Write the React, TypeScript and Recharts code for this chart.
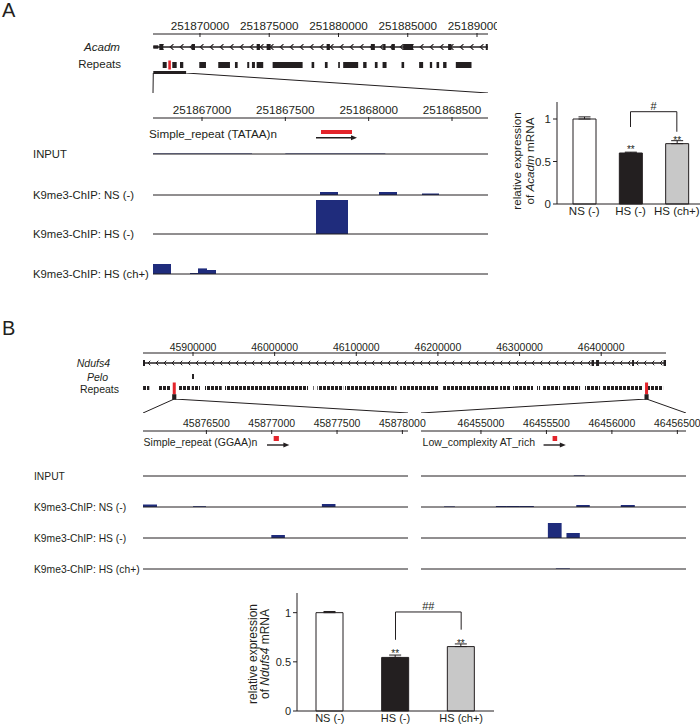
import { ComposedChart, BarChart, Bar, Line, XAxis, YAxis, ReferenceArea, ReferenceLine, ErrorBar, LabelList, Cell } from 'recharts'

type Span = [number, number]
type Bin = [number, number, number]

const INK = '#231f20'
const NAVY = '#1f2c7c'
const RED = '#e3242b'
const FONT = '"Liberation Sans", Arial, sans-serif'

// ---------- A: Acadm locus (mm10 chr3) ----------
const acadmView: Span = [251866609, 251890794]
const acadmTicks = [251870000, 251875000, 251880000, 251885000, 251890000]
const acadmGene: Span = [251866631, 251890779]
const acadmUtr: Span = [251866631, 251866991]
const acadmExons: Span[] = [
  [251867064, 251867352], [251869401, 251869639], [251874091, 251874329], [251874812, 251875101],
  [251879142, 251879380], [251882338, 251882626], [251883225, 251883398], [251883831, 251884070],
  [251884668, 251885389], [251887915, 251888160], [251890635, 251890779],
]
const acadmRepeats: Span[] = [
  [251867309, 251867597], [251868001, 251868319], [251868557, 251868795], [251869950, 251870433],
  [251871320, 251872165], [251872525, 251872720], [251873413, 251873557], [251873752, 251873968],
  [251874091, 251874567], [251875245, 251877410], [251878059, 251878247], [251879019, 251879214],
  [251879978, 251880101], [251880339, 251881421], [251881782, 251882027], [251882626, 251882821],
  [251883182, 251883470], [251884552, 251884740], [251885823, 251886111], [251886595, 251886761],
  [251887078, 251887266], [251887554, 251887799], [251888470, 251889603],
]
const acadmZoomMark: Span = [251866630, 251869000]
const acadmZoomView: Span = [251866706, 251868716]
const acadmZoomTicks = [251867000, 251867500, 251868000, 251868500]
const tataaRepeat: Span = [251867714, 251867900]
const tataaArrow: Span = [251867684, 251867930]

// ChIP-seq bins: [start, end, signal]
const acadmInput: Bin[] = [[251866706, 251867300, 0.5], [251867500, 251868100, 0.5]]
const acadmNS: Bin[] = [[251867708, 251867816, 3], [251868062, 251868170, 3], [251868320, 251868422, 1.5]]
const acadmHS: Bin[] = [[251867684, 251867876, 34]]
const acadmHSch: Bin[] = [[251866706, 251866814, 10], [251866928, 251866976, 1], [251866976, 251867030, 5.6], [251867030, 251867084, 4]]

// ---------- B: Ndufs4 locus (mm10 chr13) ----------
const ndufsView: Span = [45838750, 46479380]
const ndufsTicks = [45900000, 46000000, 46100000, 46200000, 46300000, 46400000]
const ndufsGene: Span = [45838750, 46479380]
const ndufsExons: Span[] = [
  [45838750, 45841200], [46388200, 46391200], [46393700, 46397400], [46437800, 46440200], [46476400, 46479380],
]
const peloExon: Span = [45898800, 45901200]
const ndufsRepeats: Span[] = [
  [45838800, 45846500], [45857500, 45871800], [45882900, 45896300], [45898400, 45908600],
  [45914700, 45935200], [45939200, 46040900], [46047400, 46049500], [46052300, 46084100],
  [46086200, 46149500], [46153600, 46200100], [46206300, 46254000], [46255300, 46273600],
  [46276100, 46288300], [46292000, 46316500], [46321400, 46325100], [46327500, 46349600],
  [46352000, 46374100], [46380200, 46398600], [46401000, 46450000], [46456200, 46475800],
]
const ggaaView: Span = [45876015, 45878043]
const ggaaTicks = [45876500, 45877000, 45877500, 45878000]
const ggaaRepeat: Span = [45877015, 45877055]
const ggaaArrow: Span = [45876964, 45877135]
const atView: Span = [46454542, 46456566]
const atTicks = [46455000, 46455500, 46456000, 46456500]
const atRepeat: Span = [46455547, 46455582]
const atArrow: Span = [46455478, 46455648]

const ggaaInput: Bin[] = []
const ggaaNS: Bin[] = [[45876015, 45876122, 2.5], [45876398, 45876497, 0.8], [45877384, 45877488, 3]]
const ggaaHS: Bin[] = [[45876997, 45877101, 3]]
const ggaaHSch: Bin[] = []
const atInput: Bin[] = [[46455709, 46455793, 0.6]]
const atNS: Bin[] = [
  [46454718, 46454801, 0.6], [46455114, 46455198, 1], [46455198, 46455297, 1], [46455297, 46455404, 1],
  [46455728, 46455831, 2], [46456068, 46456175, 2],
]
const atHS: Bin[] = [[46455511, 46455616, 15], [46455653, 46455755, 5]]
const atHSch: Bin[] = [[46455572, 46455679, 0.6]]

// ---------- qPCR ----------
const groups = ['NS (-)', 'HS (-)', 'HS (ch+)']
const stars = ['', '**', '**']
const acadmExpr = [1.0, 0.6, 0.71]
const acadmSem = [0.025, 0.01, 0.035]
const ndufsExpr = [1.0, 0.545, 0.655]
const ndufsSem = [0.012, 0.024, 0.027]
const barFills = ['#ffffff', INK, '#c8c8c8']

const frameOf = (view: Span) => [{ pos: view[0], v: 0 }, { pos: view[1], v: 0 }]

function Strip({ left, top, width, height, view, yMax, up = false, padB = 0, children }: any) {
  return (
    <div style={{ position: 'absolute', left: left - 4, top }}>
      <ComposedChart width={width + 8} height={height + padB} data={frameOf(view)} margin={{ top: 0, right: 4, bottom: padB, left: 4 }}>
        <XAxis type="number" dataKey="pos" domain={view} hide allowDataOverflow />
        <YAxis type="number" domain={[0, yMax ?? height]} reversed={!up} hide allowDataOverflow />
        <Line dataKey="v" stroke="none" dot={false} isAnimationActive={false} />
        {children}
      </ComposedChart>
    </div>
  )
}

const coordTick = (fs: number, lift: number) => (p: any) => (
  <g>
    <line x1={p.x} x2={p.x} y1={p.y - 1} y2={p.y + 3} stroke={INK} strokeWidth={1} />
    <text x={p.x} y={p.y - lift} textAnchor="middle" fontSize={fs} fill={INK}>{p.payload.value}</text>
  </g>
)

function CoordAxis({ left, lineY, width, view, ticks, fs, lift, padR = 40 }: any) {
  return (
    <div style={{ position: 'absolute', left: left - 4, top: lineY - 20 }}>
      <ComposedChart width={width + 4 + padR} height={26} data={frameOf(view)} margin={{ top: 0, right: padR, bottom: 0, left: 4 }}>
        <XAxis type="number" dataKey="pos" domain={view} orientation="top" height={20} ticks={ticks} interval={0}
          tickLine={false} tickSize={0} tickMargin={0} axisLine={{ stroke: INK }} tick={coordTick(fs, lift)} allowDataOverflow />
        <YAxis type="number" domain={[0, 1]} hide />
        <Line dataKey="v" stroke="none" dot={false} isAnimationActive={false} />
      </ComposedChart>
    </div>
  )
}

const area = (s: Span, y1: number, y2: number, fill: string, key: any, extra: any = {}) => (
  <ReferenceArea key={key} x1={s[0]} x2={s[1]} y1={y1} y2={y2} fill={fill} fillOpacity={1} stroke="none" ifOverflow="visible" {...extra} />
)

const arrowShape = (p: any) => (
  <g>
    <line x1={p.x1} y1={p.y1} x2={p.x2 - 5} y2={p.y2} stroke={INK} strokeWidth={1.4} />
    <polygon points={`${p.x2},${p.y2} ${p.x2 - 6},${p.y2 - 2.5} ${p.x2 - 6},${p.y2 + 2.5}`} fill={INK} />
  </g>
)

function ChipTrack({ left, base, width, view, bins, h }: any) {
  return (
    <Strip left={left} top={base - h} width={width} height={h} view={view} yMax={h} up padB={2}>
      {bins.map((b: Bin, i: number) => area([b[0], b[1]], 0, b[2], NAVY, i))}
      <ReferenceLine y={0} stroke={INK} strokeWidth={1} ifOverflow="visible" />
    </Strip>
  )
}

function ExprChart({ left, top, width, height, expr, sem, barSize, fs, padL, bracket, mark }: any) {
  const rows = groups.map((name, i) => ({ name, value: expr[i], sem: [0, sem[i]], star: stars[i] }))
  return (
    <div style={{ position: 'absolute', left, top }}>
      <BarChart width={width} height={height} data={rows} margin={{ top: 2, right: 0, bottom: 0, left: 0 }}>
        <XAxis dataKey="name" height={20} interval={0} tickLine={false} tickSize={0} tickMargin={3}
          axisLine={{ stroke: INK }} tick={{ fontSize: fs, fill: INK }} padding={{ left: padL, right: 0 }} />
        <YAxis width={57} domain={[0, 1.2]} ticks={[0, 0.5, 1]} tickSize={4} tickMargin={2}
          axisLine={{ stroke: INK }} tickLine={{ stroke: INK }} tick={{ fontSize: fs, fill: INK }} />
        <Bar dataKey="value" barSize={barSize} stroke={INK} strokeWidth={1} isAnimationActive={false}>
          {rows.map((_, i) => <Cell key={i} fill={barFills[i]} />)}
          <ErrorBar dataKey="sem" width={6} stroke={INK} strokeWidth={1} direction="y" />
          <LabelList dataKey="star" position="top" offset={0} fontSize={10} fill={INK} />
        </Bar>
        <ReferenceLine segment={[{ x: groups[1], y: bracket[0] }, { x: groups[1], y: bracket[2] }]} stroke={INK} />
        <ReferenceLine segment={[{ x: groups[1], y: bracket[2] }, { x: groups[2], y: bracket[2] }]} stroke={INK}
          label={{ value: mark, position: 'top', offset: 2, fontSize: 11, fill: INK }} />
        <ReferenceLine segment={[{ x: groups[2], y: bracket[1] }, { x: groups[2], y: bracket[2] }]} stroke={INK} />
      </BarChart>
    </div>
  )
}

const mid = (s: Span) => (s[0] + s[1]) / 2

export default function App() {
  // B overview scale, used to reach the detail panels with the zoom connectors
  const ndPerPx = (ndufsView[1] - ndufsView[0]) / 523
  const ndAt = (px: number) => ndufsView[0] + (px - 143) * ndPerPx
  const linkView: Span = [ndufsView[0], ndAt(686)]

  const tracksA = [acadmInput, acadmNS, acadmHS, acadmHSch]
  const basesA = [154, 195, 234, 274]
  const basesB = [476, 507, 538, 569]
  const ggaaTracks = [ggaaInput, ggaaNS, ggaaHS, ggaaHSch]
  const atTracks = [atInput, atNS, atHS, atHSch]
  const trackNames = ['INPUT', 'K9me3-ChIP: NS (-)', 'K9me3-ChIP: HS (-)', 'K9me3-ChIP: HS (ch+)']

  return (
    <div style={{ position: 'relative', width: 700, height: 727, overflow: 'hidden', background: '#fff', fontFamily: FONT, color: INK }}>
      <style>{'body{margin:0}'}</style>
      <svg width={0} height={0} style={{ position: 'absolute' }}>
        <defs>
          <pattern id="chevA" patternUnits="userSpaceOnUse" width={10} height={36}>
            <path d="M4.5 4.2 L1.2 7 L4.5 9.8" stroke={INK} strokeWidth={1.1} fill="none" />
          </pattern>
          <pattern id="chevB" patternUnits="userSpaceOnUse" width={8} height={46}>
            <path d="M3.6 3.4 L1 6 L3.6 8.6" stroke={INK} strokeWidth={1} fill="none" />
          </pattern>
          <pattern id="repB" patternUnits="userSpaceOnUse" width={4} height={46}>
            <rect x={0} y={0} width={3} height={46} fill={INK} />
          </pattern>
        </defs>
      </svg>

      {/* ---------------- A ---------------- */}
      <CoordAxis left={153} lineY={34} width={335} view={acadmView} ticks={acadmTicks} fs={11.7} lift={4} padR={9} />
      <Strip left={153} top={40} width={335} height={36} view={acadmView}>
        {area([acadmUtr[1], acadmGene[1]], 4, 10, 'url(#chevA)', 'chev')}
        <ReferenceLine segment={[{ x: acadmGene[0], y: 7 }, { x: acadmGene[1], y: 7 }]} stroke={INK} strokeWidth={1.3} ifOverflow="visible" />
        {area(acadmUtr, 5.3, 8.7, INK, 'utr')}
        {acadmExons.map((e, i) => area(e, 4, 10, INK, 'ex' + i))}
        {acadmRepeats.map((r, i) => area(r, 22, 28, INK, 'rp' + i))}
        {area(tataaRepeat, 20.5, 29.5, RED, 'red')}
        {area(acadmZoomMark, 31, 34, INK, 'mark')}
      </Strip>
      <Strip left={153} top={73} width={335} height={20} view={acadmView}>
        <ReferenceLine segment={[{ x: acadmZoomMark[0], y: 0 }, { x: acadmView[0], y: 20 }]} stroke={INK} ifOverflow="visible" />
        <ReferenceLine segment={[{ x: acadmZoomMark[1], y: 0 }, { x: acadmView[1], y: 20 }]} stroke={INK} ifOverflow="visible" />
      </Strip>
      <CoordAxis left={153} lineY={118} width={335} view={acadmZoomView} ticks={acadmZoomTicks} fs={11.7} lift={4} />
      <Strip left={153} top={126} width={335} height={16} view={acadmZoomView}>
        {area(tataaRepeat, 4, 8, RED, 'r')}
        <ReferenceLine segment={[{ x: tataaArrow[0], y: 11.7 }, { x: tataaArrow[1], y: 11.7 }]} shape={arrowShape} ifOverflow="visible" />
      </Strip>
      {tracksA.map((bins, i) => (
        <ChipTrack key={'a' + i} left={153} base={basesA[i]} width={335} view={acadmZoomView} bins={bins} h={38} />
      ))}

      <ExprChart left={500} top={100} width={200} height={124} expr={acadmExpr} sem={acadmSem} barSize={23} fs={11.5} padL={4}
        bracket={[0.906, 0.85, 1.086]} mark="#" />

      {/* ---------------- B ---------------- */}
      <CoordAxis left={143} lineY={353} width={523} view={ndufsView} ticks={ndufsTicks} fs={10.5} lift={2.5} padR={20} />
      <Strip left={143} top={357} width={523} height={46} view={ndufsView}>
        {area(ndufsGene, 3.4, 8.6, 'url(#chevB)', 'chev')}
        <ReferenceLine segment={[{ x: ndufsGene[0], y: 6 }, { x: ndufsGene[1], y: 6 }]} stroke={INK} strokeWidth={1.3} ifOverflow="visible" />
        {ndufsExons.map((e, i) => area(e, 3, 9, INK, 'ex' + i))}
        {area(peloExon, 17, 22, INK, 'pelo')}
        {ndufsRepeats.map((r, i) => area(r, 29, 33, 'url(#repB)', 'rp' + i))}
        {area(ggaaRepeat, 27, 36, RED, 'red1', { stroke: RED, strokeWidth: 3 })}
        {area(atRepeat, 27, 36, RED, 'red2', { stroke: RED, strokeWidth: 3 })}
        {area(ggaaView, 38.5, 41.5, INK, 'm1', { stroke: INK, strokeWidth: 2.5 })}
        {area(atView, 38.5, 41.5, INK, 'm2', { stroke: INK, strokeWidth: 2.5 })}
      </Strip>
      <Strip left={143} top={399} width={543} height={14} view={linkView}>
        <ReferenceLine segment={[{ x: mid(ggaaView), y: 0 }, { x: ndAt(143), y: 14 }]} stroke={INK} ifOverflow="visible" />
        <ReferenceLine segment={[{ x: mid(ggaaView), y: 0 }, { x: ndAt(408), y: 14 }]} stroke={INK} ifOverflow="visible" />
        <ReferenceLine segment={[{ x: mid(atView), y: 0 }, { x: ndAt(421), y: 14 }]} stroke={INK} ifOverflow="visible" />
        <ReferenceLine segment={[{ x: mid(atView), y: 0 }, { x: ndAt(686), y: 14 }]} stroke={INK} ifOverflow="visible" />
      </Strip>
      <CoordAxis left={143} lineY={431} width={265} view={ggaaView} ticks={ggaaTicks} fs={10.5} lift={4} padR={30} />
      <CoordAxis left={421} lineY={431} width={265} view={atView} ticks={atTicks} fs={10.5} lift={4} padR={14} />
      <Strip left={143} top={434} width={265} height={14} view={ggaaView}>
        {area(ggaaRepeat, 2, 7, RED, 'r')}
        <ReferenceLine segment={[{ x: ggaaArrow[0], y: 11 }, { x: ggaaArrow[1], y: 11 }]} shape={arrowShape} ifOverflow="visible" />
      </Strip>
      <Strip left={421} top={434} width={265} height={14} view={atView}>
        {area(atRepeat, 2, 7, RED, 'r')}
        <ReferenceLine segment={[{ x: atArrow[0], y: 11 }, { x: atArrow[1], y: 11 }]} shape={arrowShape} ifOverflow="visible" />
      </Strip>
      {ggaaTracks.map((bins, i) => (
        <ChipTrack key={'g' + i} left={143} base={basesB[i]} width={265} view={ggaaView} bins={bins} h={18} />
      ))}
      {atTracks.map((bins, i) => (
        <ChipTrack key={'t' + i} left={421} base={basesB[i]} width={265} view={atView} bins={bins} h={18} />
      ))}

      <ExprChart left={240} top={591} width={254} height={140} expr={ndufsExpr} sem={ndufsSem} barSize={27} fs={11} padL={0}
        bracket={[0.724, 0.827, 1.007]} mark="##" />

      {/* ---------------- text ---------------- */}
      <svg width={700} height={727} style={{ position: 'absolute', left: 0, top: 0, pointerEvents: 'none' }} fill={INK}>
        <text x={2} y={17} fontSize={20}>A</text>
        <text x={120} y={51} fontSize={11.6} textAnchor="end" fontStyle="italic">Acadm</text>
        <text x={121} y={68} fontSize={11.5} textAnchor="end">Repeats</text>
        <text x={149} y={138} fontSize={11.7}>Simple_repeat (TATAA)n</text>
        {trackNames.map((t, i) => (
          <text key={'la' + i} x={33} y={basesA[i] + 4} fontSize={11.3}>{t}</text>
        ))}
        <text transform="translate(521 161) rotate(-90)" textAnchor="middle" fontSize={11.7}>relative expression</text>
        <text transform="translate(534 161) rotate(-90)" textAnchor="middle" fontSize={11.7}>
          of <tspan fontStyle="italic">Acadm</tspan> mRNA
        </text>

        <text x={2} y={335} fontSize={20}>B</text>
        <text x={110} y={366.6} fontSize={10.5} textAnchor="end" fontStyle="italic">Ndufs4</text>
        <text x={108} y={380.6} fontSize={10.5} textAnchor="end" fontStyle="italic">Pelo</text>
        <text x={119} y={392.6} fontSize={10.5} textAnchor="end">Repeats</text>
        <text x={143.6} y={445.6} fontSize={10.5}>Simple_repeat (GGAA)n</text>
        <text x={422.6} y={445.6} fontSize={10.5}>Low_complexity AT_rich</text>
        {trackNames.map((t, i) => (
          <text key={'lb' + i} x={34} y={basesB[i] + 3.6} fontSize={10.3}>{t}</text>
        ))}
        <text transform="translate(257 654) rotate(-90)" textAnchor="middle" fontSize={12}>relative expression</text>
        <text transform="translate(269 654) rotate(-90)" textAnchor="middle" fontSize={12}>
          of <tspan fontStyle="italic">Ndufs4</tspan> mRNA
        </text>
      </svg>
    </div>
  )
}
